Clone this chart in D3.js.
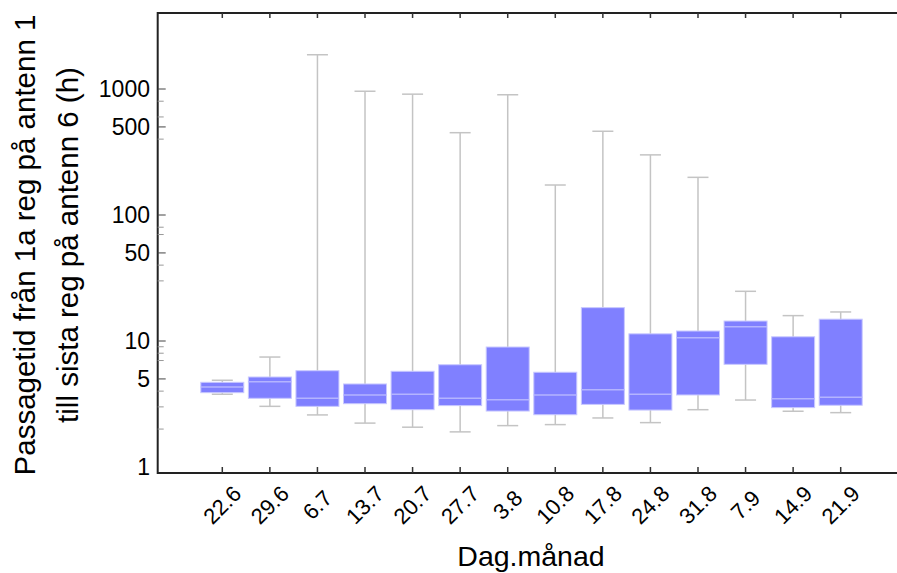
<!DOCTYPE html>
<html>
<head>
<meta charset="utf-8">
<script src="https://cdn.jsdelivr.net/npm/d3@7"></script>
<style>
  body { margin: 0; background: #fff; }
  text { font-family: "Liberation Sans", Arial, sans-serif; fill: #000; }
</style>
</head>
<body>
<script>
const categories = ["22.6", "29.6", "6.7", "13.7", "20.7", "27.7", "3.8", "10.8", "17.8", "24.8", "31.8", "7.9", "14.9", "21.9"];
const whiskerLow = [3.78, 3.03, 2.59, 2.23, 2.07, 1.90, 2.13, 2.17, 2.45, 2.25, 2.85, 3.40, 2.77, 2.70];
const q1 = [3.89, 3.51, 3.03, 3.18, 2.85, 3.07, 2.78, 2.60, 3.14, 2.83, 3.73, 6.53, 2.96, 3.09];
const median = [4.31, 4.75, 3.51, 3.73, 3.78, 3.51, 3.42, 3.73, 4.11, 3.78, 10.6, 13.0, 3.48, 3.57];
const q3 = [4.70, 5.18, 5.81, 4.56, 5.75, 6.48, 8.96, 5.65, 18.4, 11.4, 12.0, 14.4, 10.8, 14.9];
const whiskerHigh = [4.88, 7.46, 1870, 960, 910, 450, 900, 173, 462, 300, 199, 24.8, 15.9, 17.0];
const yLabels = [1, 5, 10, 50, 100, 500, 1000];
const yMinor = [2, 3, 4, 7, 8, 9, 30, 40, 70, 80, 400, 600, 800];

const svgWidth = 897;
const svgHeight = 573;
const plotLeft = 157.7, plotTop = 13, plotBottom = 473, plotRight = 897;

const svg = d3.select("body")
    .append("svg")
    .attr("width", svgWidth)
    .attr("height", svgHeight);

const x = d3.scalePoint()
    .domain(categories)
    .range([222.3, 840.7]);

const y = d3.scaleLog()
    .domain([1, 1000])
    .range([467, 89]);

const boxW = 43, capW = 21;

const rows = categories.map((c, i) => ({
    cat: c, lo: whiskerLow[i], q1: q1[i], med: median[i], q3: q3[i], hi: whiskerHigh[i]
}));

const boxes = svg.append("g")
    .selectAll("g")
    .data(rows)
    .enter()
    .append("g")
    .attr("transform", d => `translate(${x(d.cat)},0)`);

// whiskers
boxes.append("line")
    .attr("x1", 0).attr("x2", 0)
    .attr("y1", d => y(d.lo)).attr("y2", d => y(d.hi))
    .attr("stroke", "#c4c4c4").attr("stroke-width", 1.5);
boxes.append("line")
    .attr("x1", -capW / 2).attr("x2", capW / 2)
    .attr("y1", d => y(d.hi)).attr("y2", d => y(d.hi))
    .attr("stroke", "#c4c4c4").attr("stroke-width", 1.5);
boxes.append("line")
    .attr("x1", -capW / 2).attr("x2", capW / 2)
    .attr("y1", d => y(d.lo)).attr("y2", d => y(d.lo))
    .attr("stroke", "#c4c4c4").attr("stroke-width", 1.5);

boxes.append("rect")
    .attr("x", -boxW / 2)
    .attr("width", boxW)
    .attr("y", d => y(d.q3))
    .attr("height", d => y(d.q1) - y(d.q3))
    .attr("fill", "#8080ff")
    .attr("stroke", "#c8c8ff")
    .attr("stroke-width", 1);

boxes.append("line")
    .attr("x1", -boxW / 2).attr("x2", boxW / 2)
    .attr("y1", d => y(d.med)).attr("y2", d => y(d.med))
    .attr("stroke", "#b4b4ff").attr("stroke-width", 1.5);

// frame
const frame = svg.append("g").attr("stroke", "#222").attr("stroke-width", 2);
frame.append("line").attr("x1", plotLeft).attr("x2", plotLeft).attr("y1", plotTop - 1).attr("y2", plotBottom + 1);
frame.append("line").attr("x1", plotLeft).attr("x2", plotRight).attr("y1", plotTop).attr("y2", plotTop);
frame.append("line").attr("x1", plotLeft).attr("x2", plotRight).attr("y1", plotBottom).attr("y2", plotBottom);

// x ticks (inward, top and bottom)
const xt = svg.append("g").attr("stroke", "#333").attr("stroke-width", 1.5);
categories.forEach(c => {
    xt.append("line").attr("x1", x(c)).attr("x2", x(c)).attr("y1", plotBottom).attr("y2", plotBottom - 6);
    xt.append("line").attr("x1", x(c)).attr("x2", x(c)).attr("y1", plotTop).attr("y2", plotTop + 5);
});

svg.append("g")
    .selectAll("text")
    .data(categories)
    .enter()
    .append("text")
    .attr("transform", d => `translate(${x(d)},505) rotate(-45)`)
    .attr("text-anchor", "middle")
    .attr("dominant-baseline", "central")
    .style("font-size", "22px")
    .text(d => d);

// y ticks (inward)
const yt = svg.append("g");
yLabels.filter(v => v > 1).forEach(v => {
    yt.append("line").attr("x1", plotLeft).attr("x2", plotLeft + 8)
        .attr("y1", y(v)).attr("y2", y(v))
        .attr("stroke", "#444").attr("stroke-width", 1);
});
yMinor.forEach(v => {
    yt.append("line").attr("x1", plotLeft).attr("x2", plotLeft + 6)
        .attr("y1", y(v)).attr("y2", y(v))
        .attr("stroke", "#999").attr("stroke-width", 1);
});

svg.append("g")
    .selectAll("text")
    .data(yLabels)
    .enter()
    .append("text")
    .attr("x", 150)
    .attr("y", d => y(d))
    .attr("text-anchor", "end")
    .attr("dominant-baseline", "central")
    .style("font-size", "23px")
    .text(d => d);

// axis titles
svg.append("text")
    .attr("transform", "translate(35,245) rotate(-90)")
    .attr("text-anchor", "middle")
    .style("font-size", "29.5px")
    .text("Passagetid från 1a reg på antenn 1");
svg.append("text")
    .attr("transform", "translate(78,245) rotate(-90)")
    .attr("text-anchor", "middle")
    .style("font-size", "29.5px")
    .text("till sista reg på antenn 6 (h)");

svg.append("text")
    .attr("x", 531)
    .attr("y", 566)
    .attr("text-anchor", "middle")
    .style("font-size", "28.5px")
    .text("Dag.månad");
</script>
</body>
</html>
